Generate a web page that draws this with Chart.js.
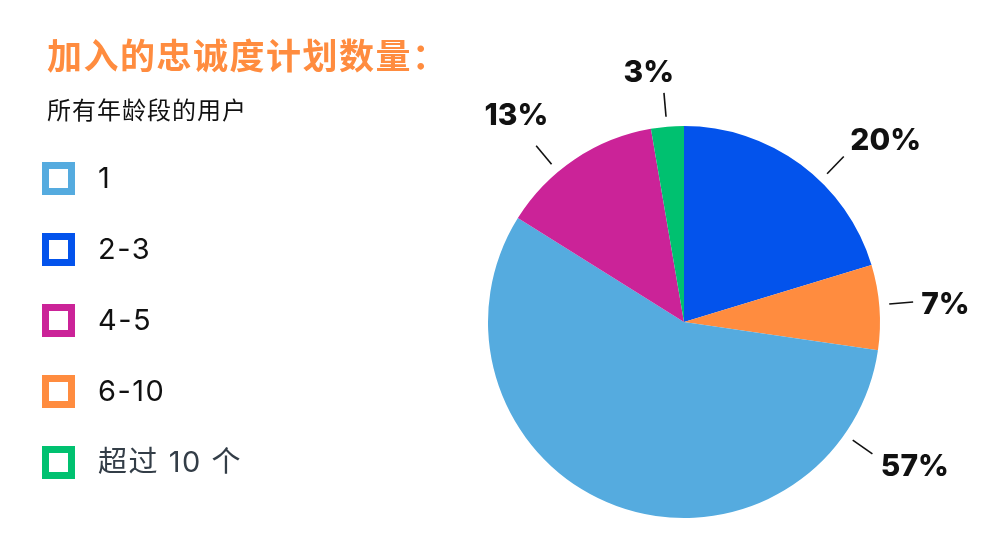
<!DOCTYPE html>
<html>
<head>
<meta charset="utf-8">
<script src="https://cdn.jsdelivr.net/npm/chart.js@4.4.1/dist/chart.umd.min.js"></script>
<style>
    html, body { margin: 0; padding: 0; background: #fff; }
    #wrap { position: relative; width: 1000px; height: 540px; overflow: hidden; }
    #pie { position: absolute; left: 0; top: 0; }
    .title {
        position: absolute; left: 47px; top: 32px;
        font-family: "Noto Sans CJK SC", sans-serif; font-weight: 700;
        font-size: 35px; letter-spacing: 1.5px; color: #ff8c3f;
        white-space: nowrap; line-height: 44px;
    }
    .subtitle {
        position: absolute; left: 47px; top: 94px;
        font-family: "Noto Sans CJK SC", sans-serif; font-size: 24px; letter-spacing: 1px;
        color: #111; white-space: nowrap; line-height: 30px;
    }
    .legend { position: absolute; left: 42px; top: 0; }
    .legend .item { position: absolute; left: 0; height: 34px; white-space: nowrap; }
    .legend .box {
        position: absolute; left: 0; top: 0; width: 19px; height: 19px;
        border: 7px solid; background: #fff;
    }
    .legend .txt {
        position: absolute; left: 56px; top: -4px; line-height: 40px;
        font-family: Inter, "Noto Sans CJK SC", sans-serif; font-size: 29px;
        letter-spacing: 1.5px; color: #111;
    }
</style>
</head>
<body>
<div id="wrap">
    <canvas id="pie" width="1000" height="540"></canvas>
    <div class="title">加入的忠诚度计划数量：</div>
    <div class="subtitle">所有年龄段的用户</div>
    <div class="legend" id="legend"></div>
</div>
<script>
/* === DATA (legend order) === */
const categories = ["1", "2-3", "4-5", "6-10", "超过 10 个"];
const shares = [56.6, 20.3, 13.4, 7.0, 2.7];
const pctLabels = ["57%", "20%", "13%", "7%", "3%"];
// slices clockwise from 12 o'clock, as indices into categories
const sliceOrder = [1, 3, 0, 2, 4];

/* === STYLE === */
const colors = ["#55abdf", "#0353ec", "#cb2398", "#ff8c3f", "#00c170"];
const legendTextColors = ["#111", "#111", "#111", "#111", "#333d47"];
// callout directions, degrees clockwise from top (legend order)
const leaderAngles = [125, 44, 320, 85, 355];
const textAngles = [122, 48, 321, 86, 352];

/* === LEGEND === */
const legendEl = document.getElementById("legend");
categories.forEach((name, i) => {
    const item = document.createElement("div");
    item.className = "item";
    item.style.top = (162 + i * 71) + "px";
    item.innerHTML = `<div class="box" style="border-color:${colors[i]}"></div>` +
        `<div class="txt" style="color:${legendTextColors[i]}">${name}</div>`;
    legendEl.appendChild(item);
});

/* === CALLOUT PLUGIN === */
const callouts = {
    id: "callouts",
    afterDatasetsDraw(chart) {
        const ctx = chart.ctx;
        const arcs = chart.getDatasetMeta(0).data;
        if (!arcs.length) return;
        const cx = arcs[0].x, cy = arcs[0].y, r = arcs[0].outerRadius;

        ctx.save();
        ctx.font = "800 30px Inter, sans-serif";
        ctx.textAlign = "center";
        ctx.textBaseline = "middle";
        ctx.strokeStyle = "#111";
        ctx.lineWidth = 1.6;
        ctx.fillStyle = "#111";

        sliceOrder.forEach((cat) => {
            // leader line
            const a = leaderAngles[cat] * Math.PI / 180;
            ctx.beginPath();
            ctx.moveTo(cx + Math.sin(a) * (r + 10), cy - Math.cos(a) * (r + 10));
            ctx.lineTo(cx + Math.sin(a) * (r + 34), cy - Math.cos(a) * (r + 34));
            ctx.stroke();

            // percent text, pushed out by half its box
            const t = textAngles[cat] * Math.PI / 180;
            const sx = Math.sin(t), sy = -Math.cos(t);
            const text = pctLabels[cat];
            const hw = ctx.measureText(text).width / 2, hh = 12;
            const d = r + 41 + hw * Math.abs(sx) + hh * Math.abs(sy);
            ctx.fillText(text, cx + sx * d, cy + sy * d + 1);
        });
        ctx.restore();
    }
};

new Chart(document.getElementById("pie"), {
    type: "pie",
    data: {
        labels: sliceOrder.map(i => categories[i]),
        datasets: [{
            data: sliceOrder.map(i => shares[i]),
            backgroundColor: sliceOrder.map(i => colors[i]),
            borderWidth: 0,
            hoverOffset: 0,
        }]
    },
    options: {
        responsive: false,
        animation: false,
        layout: { padding: { left: 488, right: 120, top: 126, bottom: 22 } },
        plugins: {
            legend: { display: false },
            tooltip: { enabled: false },
        }
    },
    plugins: [callouts]
});
</script>
</body>
</html>
